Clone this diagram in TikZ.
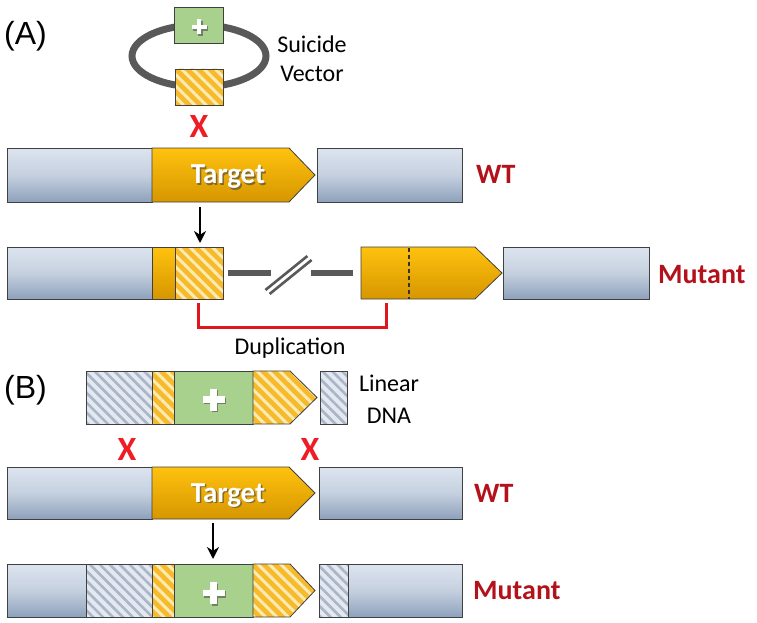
\documentclass[tikz,border=0pt]{standalone}
\usepackage{fontspec}
\setmainfont{Carlito}
\newfontfamily\arialf{Liberation Sans}
\usetikzlibrary{patterns.meta,arrows.meta}
\definecolor{edge}{HTML}{404040}
\definecolor{blueT}{HTML}{DCE4EF}
\definecolor{blueM}{HTML}{C5D0DF}
\definecolor{blueB}{HTML}{8EA1BB}
\definecolor{orT}{HTML}{FFC20E}
\definecolor{orB}{HTML}{D69600}
\definecolor{orH}{HTML}{F6BA2A}
\definecolor{paleY}{HTML}{FDEBB5}
\definecolor{grayH}{HTML}{E4E8EF}
\definecolor{grayS}{HTML}{A9B5C8}
\definecolor{greenF}{HTML}{A9D18E}
\definecolor{loopG}{HTML}{595959}
\definecolor{xred}{HTML}{EE1C25}
\definecolor{lblred}{HTML}{B3121B}
\definecolor{brred}{HTML}{E0161E}
\newcommand{\dnabox}[6]{\node[#1, minimum width=#4pt-#2pt, minimum height=#5pt-#3pt] (#6) at (#2,#3) {};}
\newcommand{\plussign}[5]{%
  \draw[black!70, line width=#4pt, opacity=0.6] (#1+1.5,#2-#3+1.5) -- (#1+1.5,#2+#3+1.5) (#1-#3+1.5,#2+1.5) -- (#1+#3+1.5,#2+1.5);
  \draw[white, line width=#4pt] (#1,#2-#3) -- (#1,#2+#3) (#1-#3,#2) -- (#1+#3,#2);
  \coordinate (#5) at (#1,#2);}
\tikzset{
  box/.style={draw=edge, line width=0.8pt, inner sep=0pt, outer sep=0pt, anchor=north west},
  bluebox/.style={box, top color=blueT, bottom color=blueB, middle color=blueM},
  greenbox/.style={box, fill=greenF},
  orbox/.style={box, top color=orT, bottom color=orB},
  ohatch/.style={box, preaction={fill=orH}, pattern={Lines[angle=-45,distance=8pt,line width=3pt]}, pattern color=paleY},
  ghatch/.style={box, preaction={fill=grayH}, pattern={Lines[angle=-45,distance=7pt,line width=2.6pt]}, pattern color=grayS},
  orshape/.style={draw=edge, line width=0.8pt, top color=orT, bottom color=orB},
  ohatchshape/.style={draw=edge, line width=0.8pt, preaction={fill=orH}, pattern={Lines[angle=-45,distance=8pt,line width=3pt]}, pattern color=paleY},
  panellbl/.style={font=\arialf\fontsize{32}{36}\selectfont, anchor=base west, inner sep=0pt},
  plain/.style={font=\fontsize{24}{28}\selectfont, anchor=base, inner sep=0pt},
  xmark/.style={font=\bfseries\fontsize{34}{36}\selectfont, text=xred, anchor=base, inner sep=0pt},
  rowlbl/.style={font=\bfseries\fontsize{28}{30}\selectfont, text=lblred, anchor=base west, inner sep=0pt},
  tgt/.style={font=\bfseries\fontsize{29}{30}\selectfont, text=white, anchor=base, inner sep=0pt},
  tgtsh/.style={font=\bfseries\fontsize{29}{30}\selectfont, text=black!75, opacity=0.6, anchor=base, inner sep=0pt},
  downarrow/.style={-{Stealth[length=12pt,width=12pt]}, line width=2.6pt, black},
  linker/.style={loopG, line width=6pt},
}
\begin{document}
\begin{tikzpicture}[x=1pt,y=-1pt]
\useasboundingbox (0,0) rectangle (757,623);
% ---------------- Panel A ----------------
\node[panellbl] (labA) at (4,45) {(A)};
% suicide vector
\draw[loopG, line width=7pt] (199,56) ellipse [x radius=67, y radius=31];
\dnabox{greenbox}{174}{7}{223}{43}{svplus}
\plussign{199}{27}{7.5}{4.5}{svp}
\dnabox{ohatch}{175}{69}{223}{105}{svhatch}
\node[plain] (sv1) at (312,53) {Suicide};
\node[plain] (sv2) at (312,82) {Vector};
\node[xmark] (xA) at (199,138) {X};
% WT row A
\dnabox{bluebox}{7}{148}{152}{202}{wtAl}
\path[orshape] (152,148) -- (289,148) -- (315,175) -- (289,202) -- (152,202) -- cycle;
\node[tgtsh] (tAsh) at (229.5,185) {Target};
\node[tgt] (tA) at (228,183.5) {Target};
\dnabox{bluebox}{317}{148}{462}{202}{wtAr}
\node[rowlbl] (wtA) at (476,183) {WT};
% arrow
\coordinate (aA1) at (200,207);
\coordinate (aA2) at (200,243);
\draw[downarrow] (aA1) -- (aA2);
% Mutant row A
\dnabox{bluebox}{7}{247}{152}{299}{mAl}
\dnabox{orbox}{152}{247}{175}{299}{mAo}
\dnabox{ohatch}{175}{247}{223}{299}{mAh}
\coordinate (l1a) at (228,273);
\coordinate (l1b) at (271,273);
\coordinate (l2a) at (311,273);
\coordinate (l2b) at (353,273);
\draw[linker] (l1a) -- (l1b);
\draw[linker] (l2a) -- (l2b);
\draw[loopG, line width=2.6pt] (265.4,290) -- (307.4,256);
\draw[loopG, line width=2.6pt] (269.6,294) -- (311.6,260);
\path[orshape] (361,247) -- (475,247) -- (502,273) -- (475,299) -- (361,299) -- cycle;
\draw[edge!80!black, line width=1.2pt, dash pattern=on 4pt off 3pt] (409,247.5) -- (409,298.5);
\dnabox{bluebox}{503}{247}{649}{299}{mAr}
\node[rowlbl] (mA) at (658,283) {Mutant};
% duplication bracket
\coordinate (b1) at (198,303);
\coordinate (b2) at (198,327);
\coordinate (b3) at (386,327);
\coordinate (b4) at (386,303);
\draw[brred, line width=3pt] (b1) -- (b2) -- (b3) -- (b4);
\node[plain] (dup) at (290,354) {Duplication};
% ---------------- Panel B ----------------
\node[panellbl] (labB) at (4,398) {(B)};
% linear DNA
\dnabox{ghatch}{86}{371}{152}{424}{ldg}
\dnabox{ohatch}{152}{371}{174}{424}{ldo}
\dnabox{greenbox}{174}{371}{253}{424}{ldgreen}
\plussign{213.5}{399.5}{11}{6.5}{ldp}
\path[ohatchshape] (253,371) -- (290,371) -- (317,397.5) -- (290,424) -- (253,424) -- cycle;
\dnabox{ghatch}{320}{371}{347}{424}{ldg2}
\node[plain] (ld1) at (389,391) {Linear};
\node[plain] (ld2) at (389,423) {DNA};
\node[xmark] (xB1) at (127,460) {X};
\node[xmark] (xB2) at (310,460) {X};
% WT row B
\dnabox{bluebox}{7}{467}{152}{519}{wtBl}
\path[orshape] (152,467) -- (289,467) -- (315,493) -- (289,519) -- (152,519) -- cycle;
\node[tgtsh] (tBsh) at (229.5,503.5) {Target};
\node[tgt] (tB) at (228,502) {Target};
\dnabox{bluebox}{319}{467}{462}{519}{wtBr}
\node[rowlbl] (wtB) at (474,502) {WT};
\coordinate (aB1) at (213,523);
\coordinate (aB2) at (213,559);
\draw[downarrow] (aB1) -- (aB2);
% Mutant row B
\dnabox{bluebox}{7}{564}{86}{617}{mBl}
\dnabox{ghatch}{86}{564}{152}{617}{mBg}
\dnabox{ohatch}{152}{564}{174}{617}{mBo}
\dnabox{greenbox}{174}{564}{253}{617}{mBgreen}
\plussign{213.5}{593}{11}{6.5}{mBp}
\path[ohatchshape] (253,564) -- (290,564) -- (315,590.5) -- (290,617) -- (253,617) -- cycle;
\dnabox{ghatch}{319}{564}{348}{617}{mBg2}
\dnabox{bluebox}{348}{564}{462}{617}{mBr}
\node[rowlbl] (mB) at (473,599) {Mutant};
\end{tikzpicture}
\end{document}
